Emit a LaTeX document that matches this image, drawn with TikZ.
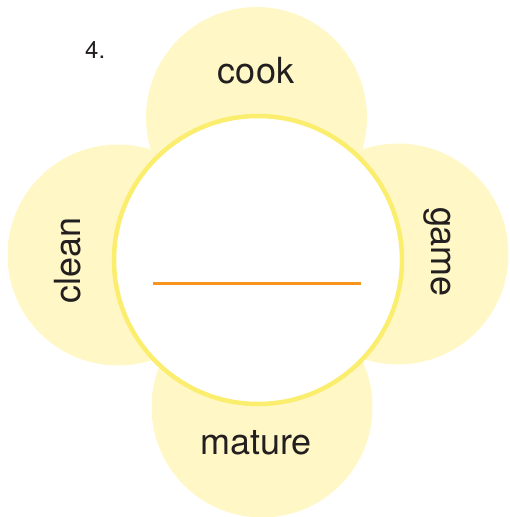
\documentclass[tikz,border=0pt]{standalone}
\usepackage{fontspec}
\setmainfont{TeX Gyre Heros}
\definecolor{petalyellow}{HTML}{FFF8C6}
\definecolor{rimyellow}{HTML}{FBEE6E}
\definecolor{blankorange}{HTML}{F7941D}
\definecolor{inkgrey}{HTML}{231F20}

\begin{document}
\begin{tikzpicture}[x=1pt,y=-1pt]
\def\p{221pt}
\def\h{288pt}
\def\f{\fontsize{36}{40}\selectfont}
\def\g{\fontsize{24}{28}\selectfont}
\tikzset{
  petal/.style={circle, fill=petalyellow, inner sep=0pt, minimum size=\p},
  hub/.style={circle, draw=rimyellow, line width=4.5pt, fill=white, inner sep=0pt, minimum size=\h},
  word/.style={text=inkgrey, inner sep=0pt, anchor=base, font=\f}
}
\useasboundingbox (0,0) rectangle (509,517);

% petals
\node [petal, name=top]    at (256.5,117.5) {};
\node [petal, name=left]   at (118,255) {};
\node [petal, name=right]  at (398,254) {};
\node [petal, name=bottom] at (262,407) {};
% middle
\node [hub, name=hub] at (258,260) {};

\node [word, name=lcook]   at (256,83) {cook};
\node [word, name=lmature] at (256,454) {mature};
\node [word, rotate=90, name=lclean] at (80,260) {clean};
\node [word, rotate=-90, name=lgame] at (431,252) {game};
\node [word, font=\g, anchor=base west, name=num] at (85,58.5) {4.};

% answer line
\coordinate (blankL) at (153,283);
\coordinate (blankR) at (361,283);
\draw [blankorange, line width=3pt] (blankL) -- (blankR);
\end{tikzpicture}
\end{document}
